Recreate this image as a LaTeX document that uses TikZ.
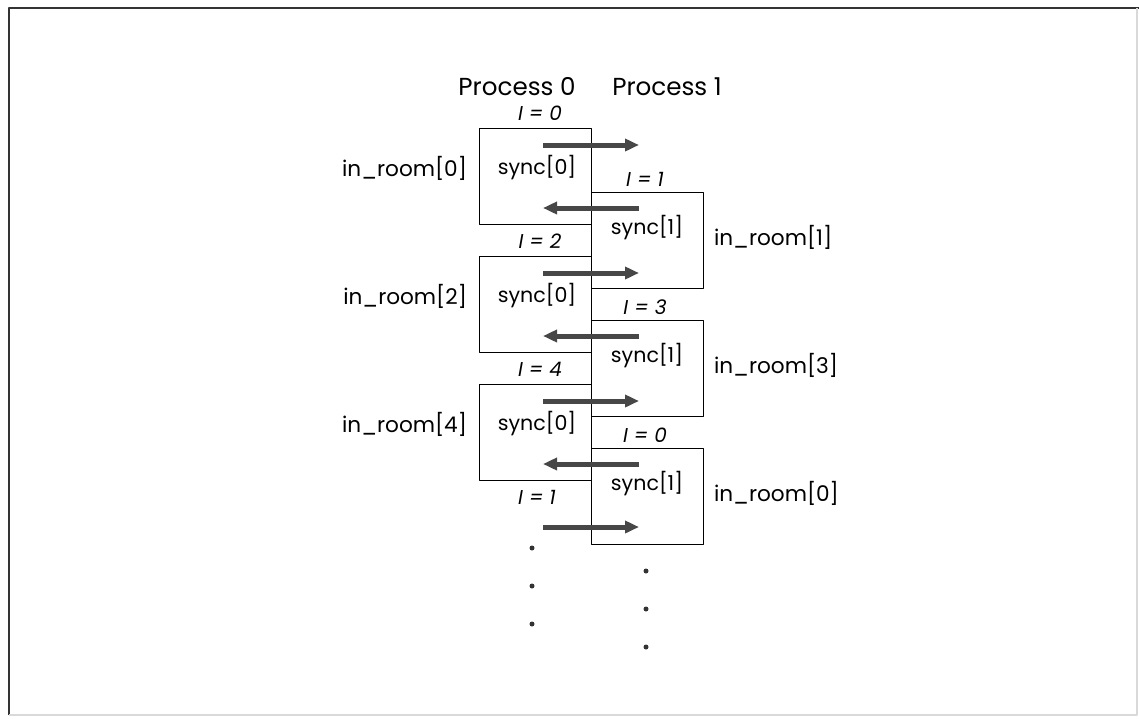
\documentclass[tikz,border=0pt]{standalone}
\usepackage{fontspec}
\setmainfont{Poppins}
\usetikzlibrary{arrows.meta,positioning}

\begin{document}
\begin{tikzpicture}[x=0.5pt,y=-0.5pt,>={Triangle[length=7pt,width=6pt]},line join=round,font=\fontsize{10.8}{12}\selectfont]
\tikzset{room/.style={draw,line width=0.7pt,minimum width=56pt,minimum height=48pt,inner sep=0pt,anchor=north west},
  msg/.style={->,line width=2.5pt,draw=black!72,fill=black!72},
  idx/.style={font=\fontsize{10}{11}\selectfont\itshape},
  var/.style={font=\fontsize{10.3}{11}\selectfont},
  dot/.style={circle,fill=black!80,inner sep=0pt,minimum size=2.5pt}}
\useasboundingbox (0,0) rectangle (1139,718);
% frame
\draw[line width=1.1pt,black!80] (9,715) -- (9,8) -- (1139,8);
\draw[line width=0.6pt,black!15] (9,715) -- (1137,715) -- (1137,8);
% process headers
\node[font=\fontsize{12.3}{14}\selectfont] (hdr0) at (517,87) {Process 0};
\node[font=\fontsize{12.3}{14}\selectfont] (hdr1) at (667,87) {Process 1};
% rooms of both processes
\foreach \k/\ia/\ib/\ra/\rb in {0/0/1/0/1,1/2/3/2/3,2/4/0/4/0}{
  \pgfmathsetmacro\ya{128+128*\k}
  \pgfmathsetmacro\yb{192+128*\k}
  \node[room] (p0box\k) at (479,\ya) {};
  \node[room] (p1box\k) at (591,\yb) {};
  \node[idx] (i0lbl\k) at (540,{\ya-15}) {I = \ia};
  \node[idx] (i1lbl\k) at (645,{\yb-13}) {I = \ib};
  \node[var] (sync0\k) at (537,{\ya+40}) {sync[0]};
  \node[var] (sync1\k) at (647,{\yb+36}) {sync[1]};
  \node[anchor=east] (room0\k) at (474,{\ya+40}) {in\_room[\ra]};
  \node[anchor=west] (room1\k) at (707,{\yb+45}) {in\_room[\rb]};
  % messages
  \coordinate (r0s\k) at (543,{\ya+17}); \coordinate (r0e\k) at (639,{\ya+17});
  \coordinate (l1s\k) at (639,{\yb+16}); \coordinate (l1e\k) at (543,{\yb+16});
  \draw[msg] (r0s\k) -- (r0e\k);
  \draw[msg] (l1s\k) -- (l1e\k);
}
\node[idx] (i0lbl3) at (537,497) {I = 1};
\coordinate (r0s3) at (543,527); \coordinate (r0e3) at (639,527);
\draw[msg] (r0s3) -- (r0e3);
% continuation dots
\foreach \j in {0,1,2}{
  \node[dot] (dl\j) at (532,{548+38*\j}) {};
  \node[dot] (dr\j) at (646,{571+38*\j}) {};
}
\end{tikzpicture}
\end{document}
